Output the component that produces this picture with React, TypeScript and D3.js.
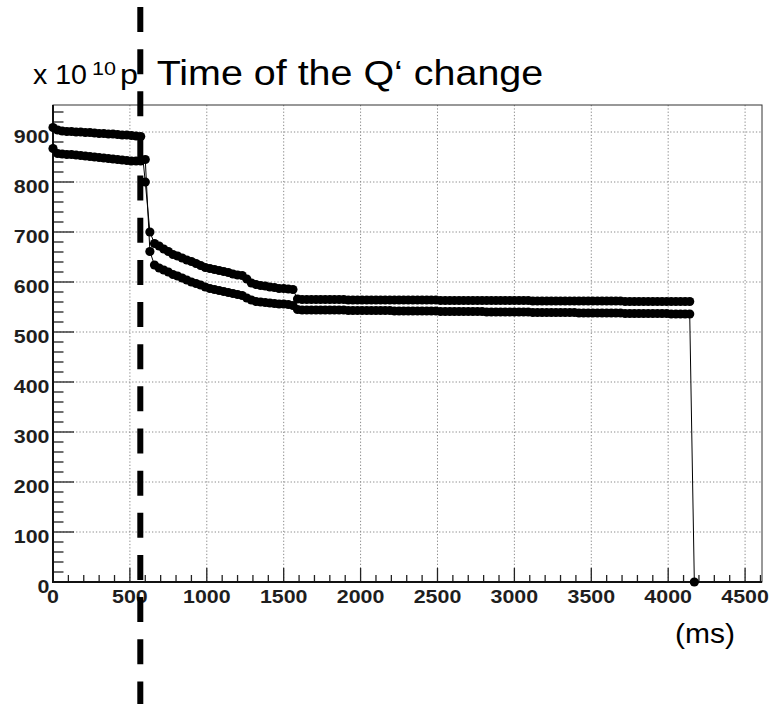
import React from "react";
import * as d3 from "d3";

// ---------------- data ----------------
// intensity samples (x 10^10 p), one every sampleStepMs milliseconds starting at t = 0
const sampleStepMs = 30;
const upperValues = [
  909, 904, 902, 901, 901, 900, 900, 899, 899, 898, 897, 897, 896, 896, 895, 894, 894, 893, 892, 891,
  800, 700, 677, 672, 666, 661, 655, 652, 648, 644, 641, 637, 633, 629, 627, 625, 623, 621, 619, 616,
  614, 613, 606, 598, 595, 593, 592, 590, 589, 587, 587, 586, 585, 566,
  565, 565, 565, 565, 565, 565, 565, 565, 565, 565,
  564, 564, 564, 564, 564, 564, 564, 564, 564, 564, 564, 564, 564, 564, 564, 564, 564, 564, 564, 564,
  563, 563, 563, 563, 563, 563, 563, 563, 563, 563, 563, 563, 563, 563, 563, 563, 563, 563, 563, 563,
  562, 562, 562, 562, 562, 562, 562, 562, 562, 562, 562, 562, 562, 562, 562, 562, 562, 562, 562, 562,
  561, 561, 561, 561, 561, 561, 561, 561, 561, 561, 561, 561, 561, 561, 561,
];
const lowerValues = [
  867, 857, 856, 855, 855, 854, 853, 852, 851, 850, 849, 848, 847, 846, 845, 844, 843, 842, 842, 842,
  845, 661, 634, 628, 624, 620, 615, 612, 608, 604, 600, 597, 594, 590, 587, 585, 583, 581, 579, 577,
  575, 573, 568, 564, 561, 560, 559, 558, 557, 556, 556, 555, 553, 545,
  544, 544, 544, 544, 544, 544, 544, 544, 544, 544,
  543, 543, 543, 543, 543, 543, 543, 543, 543, 543,
  542, 542, 542, 542, 542, 542, 542, 542, 542, 542,
  541, 541, 541, 541, 541, 541, 541, 541, 541, 541,
  540, 540, 540, 540, 540, 540, 540, 540, 540, 540,
  539, 539, 539, 539, 539, 539, 539, 539, 539, 539,
  538, 538, 538, 538, 538, 538, 538, 538, 538, 538,
  537, 537, 537, 537, 537, 537, 537, 537, 537, 537,
  536, 536, 536, 536, 536,
  0,
];

const xMajorTicks = [0, 500, 1000, 1500, 2000, 2500, 3000, 3500, 4000, 4500];
const yMajorTicks = [0, 100, 200, 300, 400, 500, 600, 700, 800, 900];
const xDomain = [0, 4610];
const yDomain = [0, 954];
const changeTime = 567; // time of the Q' change (dashed marker)

const titleMain = "Time of the Q\u2018 change";
const unitLabel = "(ms)";

// ---------------- layout ----------------
const W = 769;
const H = 704;
const L = 53;
const R = 762;
const T = 105;
const B = 582;
const FONT = "'Liberation Sans', Arial, Helvetica, sans-serif";

export default function App() {
  const x = d3.scaleLinear().domain(xDomain).range([L, R]);
  const y = d3.scaleLinear().domain(yDomain).range([B, T]);

  const xMinor = d3.range(0, xDomain[1], 100).filter((v) => v % 500 !== 0);
  const yMinor = d3.range(0, yDomain[1], 20).filter((v) => v % 100 !== 0);

  const upper = upperValues.map((v, i) => [i * sampleStepMs, v] as [number, number]);
  const lower = lowerValues.map((v, i) => [i * sampleStepMs, v] as [number, number]);
  const line = d3
    .line<[number, number]>()
    .x((d) => x(d[0]))
    .y((d) => y(d[1]));

  const xMajLen = 14;
  const xMinLen = 7;
  const yMajLen = 21;
  const yMinLen = 10.5;
  const digitW = 11.9;

  return (
    <svg
      width={W}
      height={H}
      style={{ position: "absolute", left: 0, top: 0, background: "#fff" }}
    >
      <rect x={0} y={0} width={W} height={H} fill="#fff" />
      {/* grid */}
      <g stroke="#8a8a8a" strokeWidth={1} strokeDasharray="1.3,2">
        {xMajorTicks
          .filter((v) => v > 0)
          .map((v) => (
            <line key={"gx" + v} x1={x(v)} x2={x(v)} y1={T} y2={B} />
          ))}
        {yMajorTicks
          .filter((v) => v > 0)
          .map((v) => (
            <line key={"gy" + v} x1={L} x2={R} y1={y(v)} y2={y(v)} />
          ))}
      </g>

      {/* ticks */}
      <g stroke="#222" strokeWidth={1.3}>
        {xMajorTicks.map((v) => (
          <line key={"tx" + v} x1={x(v)} x2={x(v)} y1={B} y2={B - xMajLen} />
        ))}
        {xMinor.map((v) => (
          <line key={"mx" + v} x1={x(v)} x2={x(v)} y1={B} y2={B - xMinLen} />
        ))}
        {yMajorTicks.map((v) => (
          <line key={"ty" + v} x1={L} x2={L + yMajLen} y1={y(v)} y2={y(v)} />
        ))}
        {yMinor.map((v) => (
          <line key={"my" + v} x1={L} x2={L + yMinLen} y1={y(v)} y2={y(v)} />
        ))}
      </g>

      {/* frame */}
      <rect x={L} y={T} width={R - L} height={B - T} fill="none" stroke="#333" strokeWidth={1} />
      <line x1={L} x2={L} y1={T} y2={B + 1} stroke="#111" strokeWidth={2} />
      <line x1={L - 1} x2={R} y1={B} y2={B} stroke="#111" strokeWidth={2} />

      {/* tick labels */}
      <g fontFamily={FONT} fontWeight="bold" fontSize={19} fill="#1e1e1e">
        {xMajorTicks.map((v) => {
          const s = String(v);
          return (
            <text
              key={"lx" + v}
              x={x(v)}
              y={B + 21}
              textAnchor="middle"
              textLength={digitW * s.length}
              lengthAdjust="spacingAndGlyphs"
            >
              {s}
            </text>
          );
        })}
        {yMajorTicks.map((v) => {
          const s = String(v);
          return (
            <text
              key={"ly" + v}
              x={49.5 - digitW * s.length}
              y={y(v) + 10.5}
              textLength={digitW * s.length}
              lengthAdjust="spacingAndGlyphs"
            >
              {s}
            </text>
          );
        })}
      </g>

      {/* data */}
      <g fill="none" stroke="#000" strokeWidth={1}>
        <path d={line(upper) || ""} />
        <path d={line(lower) || ""} />
      </g>
      <g fill="#000">
        {upper.map((d, i) => (
          <circle key={"u" + i} cx={x(d[0])} cy={y(d[1])} r={4.6} />
        ))}
        {lower.map((d, i) => (
          <circle key={"l" + i} cx={x(d[0])} cy={y(d[1])} r={4.6} />
        ))}
      </g>

      {/* dashed marker for the Q' change */}
      <line
        x1={x(changeTime) + 0.1}
        x2={x(changeTime) + 0.1}
        y1={7}
        y2={H}
        stroke="#000"
        strokeWidth={6}
        strokeDasharray="25,17.15"
      />

      {/* titles */}
      <g fontFamily={FONT} fill="#000">
        <text x={33} y={83.5} fontSize={28} textLength={54} lengthAdjust="spacingAndGlyphs">
          x 10
        </text>
        <text x={92} y={75} fontSize={18} textLength={24} lengthAdjust="spacingAndGlyphs">
          10
        </text>
        <text x={120} y={83.5} fontSize={28} textLength={18} lengthAdjust="spacingAndGlyphs">
          p
        </text>
        <text x={156.7} y={85} fontSize={35} textLength={386.5} lengthAdjust="spacingAndGlyphs">
          {titleMain}
        </text>
        <text x={675} y={643} fontSize={28} textLength={60} lengthAdjust="spacingAndGlyphs">
          {unitLabel}
        </text>
      </g>
    </svg>
  );
}
